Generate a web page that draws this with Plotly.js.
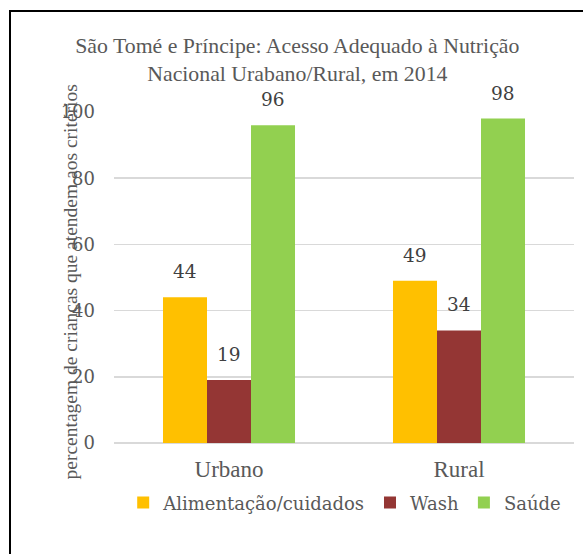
<!DOCTYPE html>
<html>
<head>
<meta charset="utf-8">
<script src="https://cdn.plot.ly/plotly-3.0.1.min.js"></script>
<style>
html,body{margin:0;padding:0;background:#fff;}
#chart{position:absolute;left:0;top:0;width:583px;height:554px;}
#frame{position:absolute;left:9px;top:10px;width:600px;height:600px;border-left:2px solid #000;border-top:2px solid #000;pointer-events:none;}
</style>
</head>
<body>
<div id="chart"></div>
<div id="frame"></div>
<script>
var categories = ["Urbano", "Rural"];
var seriesNames = ["Alimentação/cuidados", "Wash", "Saúde"];
var alimentacao = [44, 49];
var wash = [19, 34];
var saude = [96, 98];
var yTicks = [0, 20, 40, 60, 80, 100];

var colors = ["#FFC000", "#943634", "#92D050"];
var values = [alimentacao, wash, saude];
var font = "Liberation Serif";
var font2 = "DejaVu Serif";
var bargap = 0.426;
var barW = (1 - bargap) / values.length;

var traces = values.map(function(v, i){
  return {
    type: "bar",
    name: seriesNames[i],
    x: categories,
    y: v,
    marker: {color: colors[i]},
    hoverinfo: "none"
  };
});

// data labels as annotations positioned through the axes' scales
var labelAnns = [];
values.forEach(function(v, i){
  v.forEach(function(val, c){
    labelAnns.push({
      text: String(val),
      xref: "x", yref: "y",
      x: c + (i - (values.length - 1) / 2) * barW,
      y: val,
      xanchor: "center", yanchor: "bottom",
      yshift: 13,
      showarrow: false,
      font: {family: font2, size: 18.5, color: "#404040"}
    });
  });
});

var layout = {
  width: 583, height: 554,
  margin: {l: 114, r: 9, t: 112, b: 111},
  paper_bgcolor: "#fff", plot_bgcolor: "#fff",
  font: {family: font, color: "#595959"},
  barmode: "group",
  bargap: bargap,
  bargroupgap: 0,
  title: {
    text: "São Tomé e Príncipe: Acesso Adequado à Nutrição<br>Nacional Urabano/Rural, em 2014",
    x: 0.51, xref: "container", xanchor: "center",
    y: 0.905, yref: "container", yanchor: "top",
    font: {family: font, size: 21.8, color: "#595959"}
  },
  xaxis: {
    type: "category",
    showgrid: false,
    showline: false,
    zeroline: false,
    tickfont: {family: font, size: 23, color: "#595959"},
    ticks: "", ticklabelstandoff: 10
  },
  yaxis: {
    range: [0, 100],
    tickvals: yTicks,
    ticktext: yTicks.map(String),
    tickmode: "array",
    showgrid: true,
    gridcolor: "#D9D9D9",
    gridwidth: 1.5,
    zeroline: true,
    zerolinecolor: "#D9D9D9",
    zerolinewidth: 1.5,
    showline: false,
    ticks: "",
    ticklabelstandoff: 18,
    tickfont: {family: font2, size: 18, color: "#595959"}
  },
  showlegend: true,
  legend: {
    orientation: "h",
    x: 0.02, xanchor: "left",
    y: -0.125, yanchor: "top",
    font: {family: font2, size: 18, color: "#595959"},
    itemwidth: 30,
    traceorder: "normal"
  },
  annotations: [{
    text: "percentagem de crianças que atendem aos critérios",
    textangle: -90,
    xref: "paper", yref: "paper",
    x: -0.095, y: 0.486,
    xanchor: "center", yanchor: "middle",
    showarrow: false,
    font: {family: font, size: 19.5, color: "#595959"}
  }].concat(labelAnns)
};

Plotly.newPlot("chart", traces, layout, {displayModeBar: false, staticPlot: true});
</script>
</body>
</html>
